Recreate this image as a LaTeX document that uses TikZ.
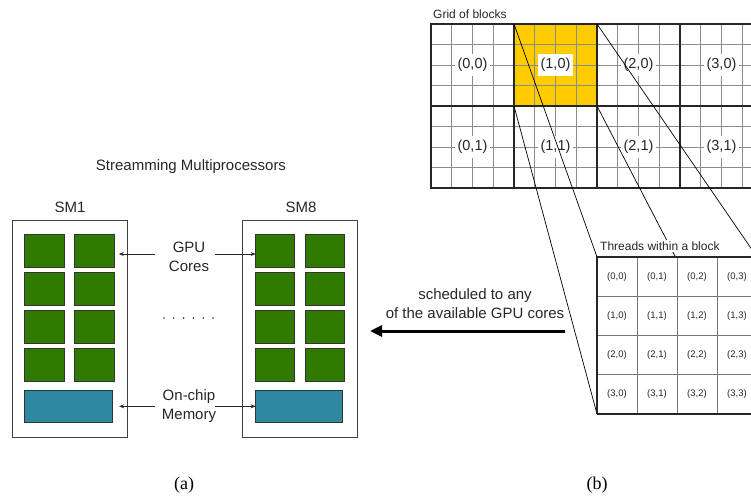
\documentclass[tikz,border=0pt]{standalone}
\usepackage{fontspec}
\setmainfont{Liberation Sans}
\newfontfamily\capfont{Liberation Serif}
\usetikzlibrary{arrows.meta}
\definecolor{coregreen}{HTML}{317A00}
\definecolor{memblue}{HTML}{2E88A0}
\definecolor{blockyellow}{HTML}{FFCC00}
\definecolor{finegray}{HTML}{8C8C8C}
\definecolor{cellgray}{HTML}{777777}

\begin{document}
\begin{tikzpicture}[x=1pt,y=-1pt,
  smbox/.style={draw=black!75, line width=0.9pt, fill=white, minimum width=115pt,
    minimum height=217pt, inner sep=0, outer sep=0},
  core/.style={draw=black!80, line width=0.8pt, fill=coregreen, minimum width=39.6pt,
    minimum height=33pt, inner sep=0, outer sep=0},
  mem/.style={draw=black!80, line width=0.8pt, fill=memblue, minimum width=87.5pt,
    minimum height=32.7pt, inner sep=0, outer sep=0},
  lbl/.style={font=\fontsize{15}{19}\selectfont, text=black!85, inner sep=0, align=center},
  smalltext/.style={font=\fontsize{12}{14}\selectfont, text=black!85, inner sep=0, anchor=west},
  fine/.style={draw=finegray, line width=0.9pt},
  heavy/.style={draw=black!85, line width=2pt},
  blocklbl/.style={fill=white, inner xsep=3pt, inner ysep=4.5pt,
    font=\fontsize{14.5}{17}\selectfont, text=black!85},
  threadlbl/.style={inner sep=0, font=\fontsize{9.5}{11}\selectfont, text=black!85},
  blockcell/.style={minimum width=83pt, minimum height=82pt, inner sep=0, outer sep=0},
  pointer/.style={draw=black!85, line width=0.8pt, -{Stealth[length=5pt,width=4pt]}},
  zoomline/.style={draw=black, line width=0.7pt},
  captext/.style={font=\capfont\fontsize{18}{20}\selectfont, inner sep=0}
]
\useasboundingbox (0,0) rectangle (751,498);
\clip (0,0) rectangle (751,498);

% ---------------- (a) streaming multiprocessors ----------------
\node[lbl] (title) at (191,167) {Streamming Multiprocessors};
\node[lbl] (sm1lbl) at (70,207) {SM1};
\node[lbl] (sm8lbl) at (301,207) {SM8};

\node[smbox] (sm1) at (69.5,328.5) {};
\node[smbox] (sm8) at (300,328.5) {};

% cores of SM1 and SM8
\foreach \r/\y in {1/250.8, 2/288.7, 3/326.7, 4/364.7} {
  \node[core] (a\r1) at (44.5,\y) {};
  \node[core] (a\r2) at (94.3,\y) {};
  \node[core] (b\r1) at (275,\y) {};
  \node[core] (b\r2) at (325,\y) {};
}
\node[mem] (amem) at (68.4,406.3) {};
\node[mem] (bmem) at (298.9,406.3) {};

% labels between the two multiprocessors
\node[lbl] (gpu) at (189,257) {GPU\\Cores};
\node[lbl] (onchip) at (189,406.5) {On-chip\\Memory};
\coordinate (gpuL) at (155,254);
\coordinate (gpuR) at (215,254);
\coordinate (memL) at (155,406.3);
\coordinate (memR) at (215,406.3);
\draw[pointer, shorten >=4.7pt] (gpuL) -- (gpuL -| a12.east);
\draw[pointer, shorten >=-0.5pt] (gpuR) -- (gpuR -| b11.west) ;
\draw[pointer, shorten >=7pt] (memL) -- (memL -| amem.east);
\draw[pointer, shorten >=-0.5pt] (memR) -- (memR -| bmem.west);

% ellipsis
\foreach \k in {0,...,5}
  \fill[black!80] (164+\k*9.8,318) circle (0.9pt);

% ---------------- (b) grid of blocks ----------------
\node[smalltext] (gridlbl) at (433,14) {Grid of blocks};
\node[blockcell, fill=blockyellow] (b10) at (555.5,65) {};

% fine thread lines inside the blocks
\foreach \i in {1,...,15}
  \draw[fine] (431+\i*20.75,24) -- (431+\i*20.75,188);
\foreach \j in {1,...,7}
  \draw[fine] (431,24+\j*20.5) -- (760,24+\j*20.5);

% block boundaries
\foreach \x in {431,514,597,680}
  \draw[heavy] (\x,24) -- (\x,188);
\foreach \y in {24,106,188}
  \draw[heavy] (430,\y) -- (760,\y);

% block indices
\foreach \c in {0,...,3} {
  \foreach \r in {0,1} {
    \node[blocklbl] (l\c\r) at (431+83*\c+41.5, 24+82*\r+41) {(\c,\r)};
  }
}

% ---------------- threads within a block ----------------
\node[minimum width=160pt, minimum height=157pt, inner sep=0, outer sep=0] (tb) at (677,335.5) {};

% zoom lines from the highlighted block to its threads (behind the thread block)
\draw[zoomline] (b10.north west) -- (tb.north west);
\draw[zoomline] (b10.north east) -- (tb.north east);
\draw[zoomline] (b10.south west) -- (tb.south west);
\draw[zoomline] (b10.south east) -- (tb.south east);

\node[smalltext, fill=white, inner xsep=1pt, inner ysep=2pt] (threadlbl) at (599,246) {Threads within a block};
\fill[white] (tb.south west) rectangle (tb.north east);
\foreach \i in {1,2,3}
  \draw[draw=cellgray, line width=1pt] (597+40*\i,257) -- (597+40*\i,414);
\foreach \j in {1,2,3}
  \draw[draw=cellgray, line width=1pt] (597,257+39.25*\j) -- (757,257+39.25*\j);
\draw[heavy] (tb.south west) -- (tb.north west) -- (tb.north east);
\draw[draw=black!85, line width=1.2pt] (tb.south west) -- (tb.south east);
\foreach \r in {0,...,3} {
  \foreach \c in {0,...,3} {
    \node[threadlbl] (t\r\c) at (617+40*\c, 276.6+39.25*\r) {(\r,\c)};
  }
}

% scheduling arrow
\node[lbl] (sched) at (475,303.5) {scheduled to any\\of the available GPU cores};
\coordinate (schedstart) at (565,331);
\coordinate (schedend) at (370,331);
\draw[draw=black, line width=3pt, -{Triangle[length=12pt,width=11pt]}] (schedstart) -- (schedend);

% captions
\node[captext] (capa) at (184,485) {(a)};
\node[captext] (capb) at (597,485) {(b)};
\end{tikzpicture}
\end{document}
